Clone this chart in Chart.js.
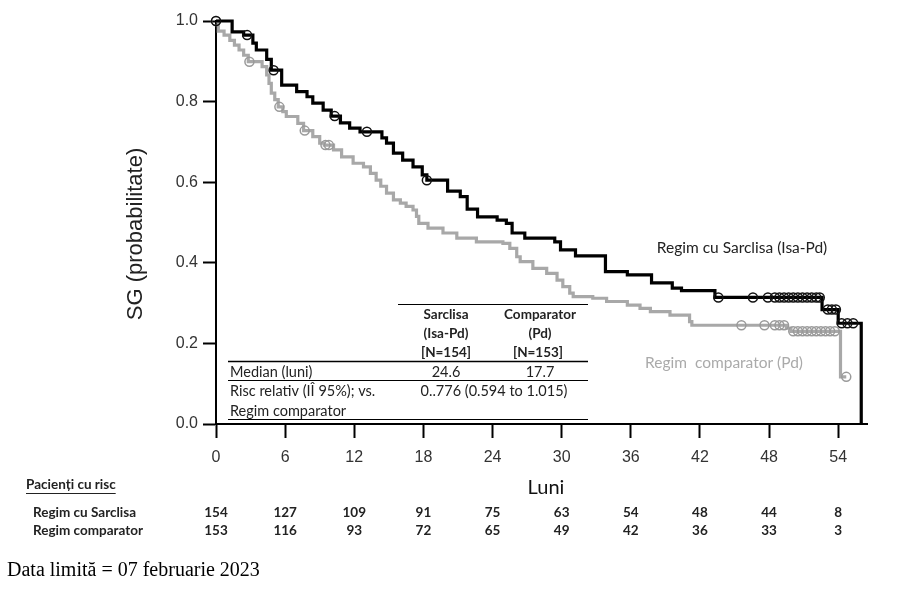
<!DOCTYPE html>
<html lang="ro">
<head>
<meta charset="UTF-8">
<title>SG - Regim cu Sarclisa vs Regim comparator</title>
<script src="https://cdn.jsdelivr.net/npm/chart.js"></script>
<style>
  html, body { margin: 0; padding: 0; background: #fff; }
  canvas { display: block; }
</style>
</head>
<body>
<canvas id="kmChart" width="921" height="591"></canvas>
<script>
// Kaplan-Meier steps: time (months) and survival after each drop
const isaTime = [0, 1.4, 2.4, 3.2, 3.5, 4.4, 4.8, 5.7, 7.0, 7.9, 8.4, 9.3, 10.0, 10.8, 11.6, 12.5, 14.4, 14.8, 15.4, 16.2, 17.1, 17.9, 18.3, 20.1, 21.2, 21.8, 22.7, 24.4, 25.2, 25.7, 26.8, 29.4, 29.9, 31.2, 33.8, 35.7, 37.8, 39.6, 40.4, 43.3, 52.6, 54.0, 56.0];
const isaSurv = [1.0, 0.973, 0.965, 0.945, 0.928, 0.905, 0.878, 0.841, 0.825, 0.812, 0.796, 0.779, 0.764, 0.747, 0.734, 0.725, 0.71, 0.697, 0.672, 0.655, 0.638, 0.618, 0.605, 0.578, 0.564, 0.533, 0.514, 0.506, 0.498, 0.474, 0.461, 0.452, 0.432, 0.417, 0.378, 0.370, 0.350, 0.337, 0.331, 0.314, 0.284, 0.25, 0];

const pdTime = [0, 0.2, 0.7, 1.2, 1.6, 2.0, 2.4, 2.8, 4.0, 4.4, 4.6, 4.8, 5.1, 5.4, 5.8, 6.1, 7.1, 7.6, 8.4, 9.0, 9.4, 10.2, 10.9, 11.9, 12.8, 13.4, 13.9, 14.3, 14.8, 15.4, 16.0, 16.5, 17.1, 17.4, 17.6, 18.4, 19.7, 20.9, 22.6, 24.9, 25.5, 26.1, 26.4, 27.5, 28.7, 29.6, 30.1, 30.7, 31.0, 32.7, 33.9, 35.7, 36.8, 37.7, 39.4, 41.1, 41.3, 49.5, 49.9, 54.2, 54.7];
const pdSurv = [1.0, 0.975, 0.965, 0.952, 0.940, 0.928, 0.915, 0.899, 0.887, 0.866, 0.845, 0.821, 0.805, 0.787, 0.775, 0.763, 0.746, 0.728, 0.713, 0.697, 0.692, 0.680, 0.663, 0.647, 0.638, 0.622, 0.605, 0.590, 0.573, 0.556, 0.548, 0.540, 0.531, 0.515, 0.498, 0.486, 0.474, 0.461, 0.452, 0.448, 0.436, 0.415, 0.403, 0.386, 0.374, 0.357, 0.341, 0.325, 0.316, 0.312, 0.304, 0.295, 0.287, 0.279, 0.270, 0.254, 0.245, 0.238, 0.23, 0.117, 0.117];

// censored patients
const isaCensTime = [0, 2.7, 5.0, 10.3, 13.1, 18.3, 43.6, 46.6, 47.9, 48.5, 48.9, 49.3, 49.7, 50.1, 50.5, 50.9, 51.3, 51.7, 52.1, 52.4, 53.1, 53.45, 53.8, 54.3, 54.8, 55.3];
const isaCensSurv = [1.0, 0.965, 0.878, 0.764, 0.725, 0.605, 0.314, 0.314, 0.314, 0.314, 0.314, 0.314, 0.314, 0.314, 0.314, 0.314, 0.314, 0.314, 0.314, 0.314, 0.284, 0.284, 0.284, 0.25, 0.25, 0.25];
const pdCensTime = [0, 2.9, 5.5, 7.7, 9.5, 9.8, 45.6, 47.6, 48.5, 48.9, 49.3, 50.1, 50.5, 50.9, 51.3, 51.7, 52.1, 52.5, 52.9, 53.3, 53.7, 54.7];
const pdCensSurv = [1.0, 0.899, 0.787, 0.728, 0.692, 0.692, 0.245, 0.245, 0.245, 0.245, 0.245, 0.23, 0.23, 0.23, 0.23, 0.23, 0.23, 0.23, 0.23, 0.23, 0.23, 0.117];

const xTicks = [0, 6, 12, 18, 24, 30, 36, 42, 48, 54];
const yTicks = [0, 0.2, 0.4, 0.6, 0.8, 1.0];

// patients at risk
const riskLabels = ['Regim cu Sarclisa', 'Regim comparator'];
const riskIsa = [154, 127, 109, 91, 75, 63, 54, 48, 44, 8];
const riskPd = [153, 116, 93, 72, 65, 49, 42, 36, 33, 3];

const pts = (xs, ys) => xs.map((x, i) => ({ x: x, y: ys[i] }));

const BLACK = '#000000';
const GREY = '#a8a8a8';

// text around the plot: titles, summary table, at-risk table
const annotations = {
  id: 'annotations',
  afterDraw(chart) {
    const ctx = chart.ctx;
    const xs = chart.scales.x;
    ctx.save();

    // y axis title
    ctx.save();
    ctx.translate(136, 234);
    ctx.rotate(-Math.PI / 2);
    ctx.font = '22px "Liberation Sans", Arial, sans-serif';
    ctx.fillStyle = '#222';
    ctx.textAlign = 'center';
    ctx.textBaseline = 'middle';
    ctx.fillText('SG (probabilitate)', 0, 0);
    ctx.restore();

    ctx.textBaseline = 'middle';

    // x axis title
    ctx.font = '20px Lato, sans-serif';
    ctx.fillStyle = '#111';
    ctx.textAlign = 'center';
    ctx.fillText('Luni', 546, 488);

    // curve labels
    ctx.font = '15.5px Lato, sans-serif';
    ctx.fillStyle = '#222';
    ctx.fillText('Regim cu Sarclisa (Isa-Pd)', 742, 248);
    ctx.fillStyle = '#aaaaaa';
    ctx.fillText('Regim  comparator (Pd)', 724, 363);

    // summary table
    ctx.strokeStyle = '#000';
    ctx.lineWidth = 1;
    ctx.beginPath(); ctx.moveTo(398, 304.5); ctx.lineTo(588, 304.5); ctx.stroke();
    ctx.lineWidth = 1.5;
    ctx.beginPath(); ctx.moveTo(228, 361.5); ctx.lineTo(588, 361.5); ctx.stroke();
    ctx.lineWidth = 1;
    ctx.beginPath(); ctx.moveTo(228, 380.5); ctx.lineTo(588, 380.5); ctx.stroke();
    ctx.beginPath(); ctx.moveTo(228, 419.5); ctx.lineTo(588, 419.5); ctx.stroke();

    ctx.fillStyle = '#222';
    ctx.font = 'bold 13.5px Lato, sans-serif';
    ctx.textAlign = 'center';
    ctx.fillText('Sarclisa', 446, 315);
    ctx.fillText('(Isa-Pd)', 446, 334);
    ctx.fillText('[N=154]', 446, 353);
    ctx.fillText('Comparator', 540, 315);
    ctx.fillText('(Pd)', 540, 334);
    ctx.fillText('[N=153]', 538, 353);

    ctx.font = '14.5px Lato, sans-serif';
    ctx.fillText('24.6', 446, 372);
    ctx.fillText('17.7', 540, 372);
    ctx.fillText('0..776 (0.594 to 1.015)', 494, 391);
    ctx.textAlign = 'left';
    ctx.fillText('Median (luni)', 230, 372);
    ctx.fillText('Risc relativ (I\u00CE 95%); vs.', 230, 391);
    ctx.fillText('Regim comparator', 230, 411);

    // patients at risk
    ctx.font = 'bold 13.5px Lato, sans-serif';
    ctx.fillStyle = '#222';
    ctx.textAlign = 'left';
    const head = 'Pacien\u021Bi cu risc';
    ctx.fillText(head, 26, 485);
    const w = ctx.measureText(head).width;
    ctx.lineWidth = 1;
    ctx.strokeStyle = '#222';
    ctx.beginPath(); ctx.moveTo(26, 493.5); ctx.lineTo(26 + w, 493.5); ctx.stroke();

    ctx.fillText(riskLabels[0], 33, 513);
    ctx.fillText(riskLabels[1], 33, 531);
    ctx.textAlign = 'center';
    xTicks.forEach((m, i) => {
      const px = xs.getPixelForValue(m);
      ctx.fillText(String(riskIsa[i]), px, 513);
      ctx.fillText(String(riskPd[i]), px, 531);
    });

    // data cut-off
    ctx.font = '20px "Liberation Serif", "Times New Roman", serif';
    ctx.fillStyle = '#000';
    ctx.textAlign = 'left';
    ctx.fillText('Data limit\u0103 = 07 februarie 2023', 7, 571);

    ctx.restore();
  }
};

new Chart(document.getElementById('kmChart'), {
  type: 'line',
  data: {
    datasets: [
      {
        label: 'Isa-Pd cenzurat',
        data: pts(isaCensTime, isaCensSurv),
        showLine: false,
        pointStyle: 'circle',
        pointRadius: 4.5,
        pointBorderWidth: 1.5,
        pointBorderColor: '#111',
        pointBackgroundColor: 'rgba(0,0,0,0)',
        clip: false
      },
      {
        label: 'Regim cu Sarclisa (Isa-Pd)',
        data: pts(isaTime, isaSurv),
        stepped: true,
        borderColor: BLACK,
        borderWidth: 3.2,
        pointRadius: 0,
        fill: false,
        clip: false
      },
      {
        label: 'Pd cenzurat',
        data: pts(pdCensTime, pdCensSurv),
        showLine: false,
        pointStyle: 'circle',
        pointRadius: 4.5,
        pointBorderWidth: 1.5,
        pointBorderColor: '#9a9a9a',
        pointBackgroundColor: 'rgba(0,0,0,0)',
        clip: false
      },
      {
        label: 'Regim comparator (Pd)',
        data: pts(pdTime, pdSurv),
        stepped: true,
        borderColor: GREY,
        borderWidth: 3.2,
        pointRadius: 0,
        fill: false,
        clip: false
      }
    ]
  },
  options: {
    responsive: false,
    animation: false,
    layout: { padding: { left: 0, right: 54, top: 21, bottom: 0 } },
    plugins: {
      legend: { display: false },
      tooltip: { enabled: false }
    },
    scales: {
      x: {
        type: 'linear',
        min: 0,
        max: 56.5,
        afterBuildTicks: (scale) => { scale.ticks = xTicks.map(v => ({ value: v })); },
        afterFit: (scale) => { scale.height = 167; },
        grid: { drawOnChartArea: false, drawTicks: true, tickLength: 14, tickColor: '#000', tickWidth: 2 },
        border: { display: true, color: '#000', width: 2 },
        ticks: {
          padding: 10,
          color: '#333',
          font: { family: '"Liberation Sans", Arial, sans-serif', size: 16 },
          maxRotation: 0
        }
      },
      y: {
        min: 0,
        max: 1,
        afterBuildTicks: (scale) => { scale.ticks = yTicks.map(v => ({ value: v })); },
        afterFit: (scale) => { scale.width = 216; },
        grid: { drawOnChartArea: false, drawTicks: true, tickLength: 13, tickColor: '#000', tickWidth: 2 },
        border: { display: true, color: '#000', width: 2 },
        ticks: {
          padding: 5,
          color: '#333',
          font: { family: '"Liberation Sans", Arial, sans-serif', size: 16 },
          callback: (v) => v.toFixed(1)
        }
      }
    }
  },
  plugins: [annotations]
});
</script>
</body>
</html>
